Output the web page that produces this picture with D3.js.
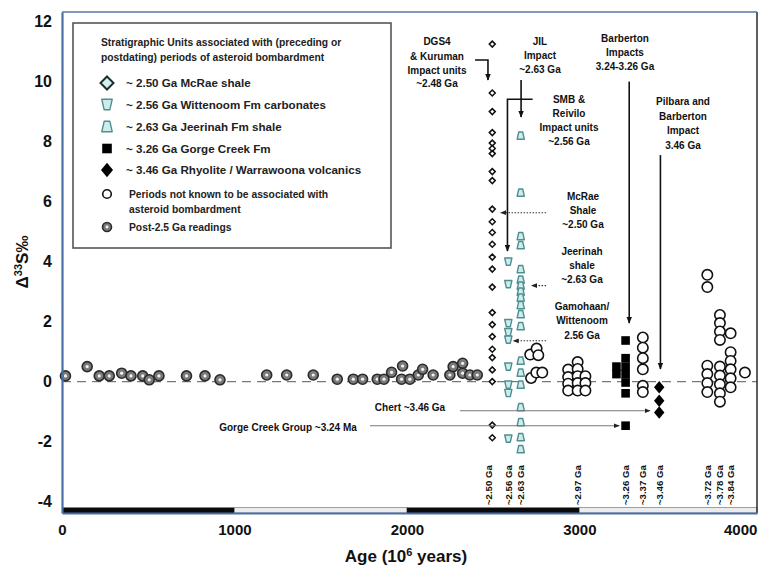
<!DOCTYPE html>
<html>
<head>
<meta charset="utf-8">
<script src="https://cdn.jsdelivr.net/npm/d3@7"></script>
<style>
  html, body { margin: 0; padding: 0; background: #fff; }
  svg { display: block; font-family: "Liberation Sans", Arial, sans-serif; }
  .ann { font-size: 10px; font-weight: bold; fill: #111; }
</style>
</head>
<body>
<svg id="chart" width="760" height="568"></svg>
<script>
// ---- Data: age (Ma) and Δ33S (‰) ----
const xTicks = [0, 1000, 2000, 3000, 4000];
const yTicks = [-4, -2, 0, 2, 4, 6, 8, 10, 12];

// Post-2.5 Ga readings
const postAges = [20, 146, 216, 274, 346, 400, 468, 506, 562, 722, 829, 916,
  1187, 1303, 1457, 1596, 1689, 1743, 1828, 1867, 1911, 1975, 1969, 2017,
  2066, 2091, 2152, 2249, 2268, 2323, 2323, 2365, 2408];
const postVals = [0.19, 0.5, 0.19, 0.19, 0.28, 0.19, 0.19, 0.06, 0.19, 0.19, 0.19, 0.06,
  0.22, 0.22, 0.22, 0.08, 0.08, 0.08, 0.08, 0.08, 0.31, 0.52, 0.08, 0.08,
  0.22, 0.41, 0.22, 0.22, 0.5, 0.61, 0.28, 0.22, 0.22];

// ~2.50 Ga McRae shale
const mcraeAge = 2495;
const mcraeVals = [11.25, 9.62, 9.0, 8.3, 7.95, 7.77, 7.6, 7.0, 6.7, 5.75, 5.33, 4.97,
  4.58, 4.15, 3.75, 3.15, 2.3, 1.9, 1.5, 1.08, 0.8, 0.39, 0.0, -1.45, -1.87];

// ~2.56 Ga Wittenoom Fm carbonates
const wittAge = 2588;
const wittVals = [4.0, 3.25, 1.95, 1.65, 1.4, 0.5, -0.1, -0.38, -1.9];

// ~2.63 Ga Jeerinah Fm shale
const jeerAge = 2660;
const jeerVals = [8.2, 6.3, 4.85, 4.55, 3.75, 3.4, 3.2, 3.0, 2.8, 2.55, 2.25, 1.85,
  0.7, 0.3, -0.1, -0.85, -1.35, -1.85, -2.25];

// ~3.26 Ga Gorge Creek Fm
const gorgeAges = [3268, 3268, 3268, 3268, 3268, 3268, 3268, 3215, 3215];
const gorgeVals = [1.37, 0.78, 0.5, 0.25, -0.03, -0.39, -1.47, 0.5, 0.25];

// ~3.46 Ga Rhyolite / Warrawoona volcanics
const rhyAge = 3463;
const rhyVals = [-0.19, -0.64, -1.03];

// Periods not known to be associated with asteroid bombardment
const openAges = [2715, 2752, 2762, 2720, 2750, 2785,
  2935, 2935, 2935, 2935, 2990, 2990, 2990, 2990, 2990, 3035, 3035, 3035,
  3368, 3368, 3368, 3368, 3368, 3368,
  3742, 3742, 3742, 3742, 3742, 3742,
  3815, 3815, 3815, 3815, 3815, 3815, 3815, 3815, 3815,
  3877, 3877, 3877, 3877, 3877, 3877,
  3960];
const openVals = [0.9, 1.1, 0.88, 0.12, 0.3, 0.3,
  0.4, 0.15, -0.07, -0.3, 0.65, 0.42, 0.18, -0.05, -0.3, 0.18, -0.05, -0.3,
  1.47, 1.13, 0.78, 0.41, -0.14, -0.35,
  3.56, 3.15, 0.53, 0.25, -0.05, -0.35,
  2.22, 1.95, 1.67, 1.39, 0.5, 0.2, -0.09, -0.39, -0.67,
  1.61, 0.98, 0.69, 0.41, 0.11, -0.19,
  0.3];

// Column age labels along the bottom
const colLabels = ["~2.50 Ga", "~2.56 Ga", "~2.63 Ga", "~2.97 Ga", "~3.26 Ga",
  "~3.37 Ga", "~3.46 Ga", "~3.72 Ga", "~3.78 Ga", "~3.84 Ga"];
const colLabelAges = [mcraeAge - 20, wittAge, jeerAge, 2990, 3268, 3368, 3463, 3742, 3815, 3877];

// Alternating time bar along the x axis (Ma)
const barStarts = [0, 1000, 2000, 3000];
const barEnds = [1000, 2000, 3000, 4030];

// Legend
const legendTitle = ["Stratigraphic Units associated with (preceding or",
  "postdating) periods of asteroid bombardment"];
const legendKeys = ["diamondOpen", "trapDown", "trapUp", "square", "diamondFilled", "circle", "post"];
const legendLabels = [
  ["~ 2.50 Ga McRae shale"],
  ["~ 2.56 Ga Wittenoom Fm carbonates"],
  ["~ 2.63 Ga Jeerinah Fm shale"],
  ["~ 3.26 Ga Gorge Creek Fm"],
  ["~ 3.46 Ga Rhyolite / Warrawoona volcanics"],
  ["Periods not known to be associated with", "asteroid bombardment"],
  ["Post-2.5 Ga readings"]];

// ---- Chart ----
const svg = d3.select("#chart");
const W = 760, H = 568;
const plot = { left: 62, right: 757, top: 12, bottom: 513 };

const x = d3.scaleLinear().domain([0, 4030]).range([plot.left, plot.right]);
const y = d3.scaleLinear().domain([-4.38, 12.32]).range([plot.bottom, plot.top]);

svg.append("rect").attr("width", W).attr("height", H).attr("fill", "#fff");

// arrowheads
const defs = svg.append("defs");
defs.append("marker").attr("id", "head").attr("viewBox", "0 0 10 10")
  .attr("refX", 9).attr("refY", 5).attr("markerWidth", 7).attr("markerHeight", 7)
  .attr("markerUnits", "userSpaceOnUse").attr("orient", "auto")
  .append("path").attr("d", "M0,1 L10,5 L0,9 Z").attr("fill", "#111");
defs.append("marker").attr("id", "headSmall").attr("viewBox", "0 0 10 10")
  .attr("refX", 9).attr("refY", 5).attr("markerWidth", 6).attr("markerHeight", 6)
  .attr("markerUnits", "userSpaceOnUse").attr("orient", "auto")
  .append("path").attr("d", "M0,1 L10,5 L0,9 Z").attr("fill", "#222");

// zero reference line
svg.append("line")
  .attr("x1", plot.left).attr("x2", plot.right)
  .attr("y1", y(0)).attr("y2", y(0))
  .attr("stroke", "#777").attr("stroke-width", 1.4).attr("stroke-dasharray", "9,6");

// Legend box
const lg = svg.append("g");
lg.append("rect").attr("x", 73).attr("y", 23).attr("width", 318).attr("height", 225)
  .attr("fill", "#fff").attr("stroke", "#555").attr("stroke-width", 1.6);
lg.selectAll("text.title").data(legendTitle).join("text")
  .attr("x", 101).attr("y", (d, i) => 46 + i * 14.5)
  .attr("font-size", 10.3).attr("font-weight", "bold").attr("fill", "#222")
  .text(d => d);

// symbol drawing helper
function symbol(g, kind, cx, cy, s) {
  if (kind === "diamondOpen") {
    g.append("path").attr("d", `M${cx},${cy - s}L${cx + s},${cy}L${cx},${cy + s}L${cx - s},${cy}Z`)
      .attr("fill", "#fff").attr("stroke", "#111").attr("stroke-width", 1.5);
  } else if (kind === "diamondLegend") {
    g.append("path").attr("d", `M${cx},${cy - s}L${cx + s},${cy}L${cx},${cy + s}L${cx - s},${cy}Z`)
      .attr("fill", "#d4f1f1").attr("stroke", "#1d2e2e").attr("stroke-width", 2);
  } else if (kind === "trapDown" || kind === "trapUp") {
    const t = s, b = s * 0.55, h = s;
    const d = kind === "trapDown"
      ? `M${cx - t},${cy - h}L${cx + t},${cy - h}L${cx + b},${cy + h}L${cx - b},${cy + h}Z`
      : `M${cx - b},${cy - h}L${cx + b},${cy - h}L${cx + t},${cy + h}L${cx - t},${cy + h}Z`;
    g.append("path").attr("d", d).attr("fill", "#cdecec")
      .attr("stroke", "#4f8f90").attr("stroke-width", 1.4).attr("stroke-linejoin", "round");
  } else if (kind === "square") {
    g.append("rect").attr("x", cx - s).attr("y", cy - s).attr("width", 2 * s).attr("height", 2 * s)
      .attr("fill", "#000");
  } else if (kind === "diamondFilled") {
    g.append("path").attr("d", `M${cx},${cy - s * 1.2}L${cx + s},${cy}L${cx},${cy + s * 1.2}L${cx - s},${cy}Z`)
      .attr("fill", "#000");
  } else if (kind === "circle") {
    g.append("circle").attr("cx", cx).attr("cy", cy).attr("r", s)
      .attr("fill", "#fff").attr("stroke", "#111").attr("stroke-width", 1.6);
  } else if (kind === "post") {
    g.append("circle").attr("cx", cx).attr("cy", cy).attr("r", s)
      .attr("fill", "#7a7a7a").attr("stroke", "#2b2b2b").attr("stroke-width", 1.6);
    g.append("circle").attr("cx", cx).attr("cy", cy).attr("r", s * 0.32).attr("fill", "#f2f2f2");
  }
}

const legendRowY = [83, 104.5, 126.5, 148.5, 170, 194, 227];
const legendSize = { diamondOpen: 6.5, trapDown: 5.2, trapUp: 5.2, square: 4.8, diamondFilled: 6, circle: 4.3, post: 4.5 };
legendKeys.forEach((k, i) => {
  const g = lg.append("g");
  symbol(g, k === "diamondOpen" ? "diamondLegend" : k, 107, legendRowY[i], legendSize[k]);
  const small = i >= 5;
  legendLabels[i].forEach((line, j) => {
    lg.append("text")
      .attr("x", small ? 129 : 126).attr("y", legendRowY[i] + j * 15.5)
      .attr("dy", "0.36em")
      .attr("font-size", small ? 10.3 : 11.6).attr("font-weight", "bold").attr("fill", "#222")
      .text(line);
  });
});

// ---- Marks ----
const marks = svg.append("g");

postAges.forEach((a, i) => symbol(marks, "post", x(a), y(postVals[i]), 5));
openAges.forEach((a, i) => symbol(marks, "circle", x(a), y(openVals[i]), 5.2));
mcraeVals.forEach(v => symbol(marks, "diamondOpen", x(mcraeAge), y(v), 3));
wittVals.forEach(v => symbol(marks, "trapDown", x(wittAge), y(v), 3.6));
jeerVals.forEach(v => symbol(marks, "trapUp", x(jeerAge), y(v), 3.6));
gorgeAges.forEach((a, i) => symbol(marks, "square", x(a), y(gorgeVals[i]), 4.3));
rhyVals.forEach(v => symbol(marks, "diamondFilled", x(rhyAge), y(v), 5.2));

// ---- Annotations ----
const ann = svg.append("g");
const textBlocks = [
  { cx: 437, ys: [41.7, 56, 70, 83.3], lines: ["DGS4", "& Kuruman", "Impact units", "~2.48 Ga"] },
  { cx: 540, ys: [41.7, 55, 69], lines: ["JIL", "Impact", "~2.63 Ga"] },
  { cx: 569, ys: [99.3, 113.3, 127.7, 141.7], lines: ["SMB &", "Reivilo", "Impact units", "~2.56 Ga"] },
  { cx: 625, ys: [38.3, 52.7, 66.7], lines: ["Barberton", "Impacts", "3.24-3.26 Ga"] },
  { cx: 683, ys: [101.7, 116, 130, 145], lines: ["Pilbara and", "Barberton", "Impact", "3.46 Ga"] },
  { cx: 583, ys: [196.7, 210.7, 224], lines: ["McRae", "Shale", "~2.50 Ga"] },
  { cx: 582, ys: [251.7, 265.7, 279.3], lines: ["Jeerinah", "shale", "~2.63 Ga"] },
  { cx: 582, ys: [306.7, 320.7, 335], lines: ["Gamohaan/", "Wittenoom", "2.56 Ga"] },
  { cx: 410, ys: [407], lines: ["Chert ~3.46 Ga"] },
  { cx: 288, ys: [427.5], lines: ["Gorge Creek Group ~3.24 Ma"] }
];
textBlocks.forEach(b => {
  b.lines.forEach((t, i) => {
    ann.append("text").attr("class", "ann")
      .attr("x", b.cx).attr("y", b.ys[i]).attr("dy", "0.36em")
      .attr("text-anchor", "middle").text(t);
  });
});

// arrows, in data units (age, Δ33S)
const line = d3.line().x(d => x(d[0])).y(d => y(d[1]));
const solidArrows = [
  [[2395, 10.72], [2470, 10.72], [2470, 10.05]],
  [[2662, 10.05], [2662, 8.82]],
  [[2729, 9.41], [2583, 9.41], [2583, 4.35]],
  [[3289, 10.0], [3289, 1.95]],
  [[3470, 7.55], [3470, 0.42]]
];
solidArrows.forEach(p => {
  ann.append("path").attr("d", line(p)).attr("fill", "none")
    .attr("stroke", "#111").attr("stroke-width", 1.6).attr("marker-end", "url(#head)");
});
const dottedArrows = [
  [[2807, 5.63], [2544, 5.63]],
  [[2807, 3.2], [2723, 3.2]],
  [[2807, 1.36], [2617, 1.36]]
];
dottedArrows.forEach(p => {
  ann.append("path").attr("d", line(p)).attr("fill", "none")
    .attr("stroke", "#333").attr("stroke-width", 1.1).attr("stroke-dasharray", "1.5,1.5")
    .attr("marker-end", "url(#headSmall)");
});
const thinArrows = [
  [[2308, -0.97], [3409, -0.97]],
  [[1786, -1.47], [3231, -1.47]]
];
thinArrows.forEach(p => {
  ann.append("path").attr("d", line(p)).attr("fill", "none")
    .attr("stroke", "#777").attr("stroke-width", 1.1)
    .attr("marker-end", "url(#headSmall)");
});

// column age labels
colLabels.forEach((t, i) => {
  const cx = x(colLabelAges[i]);
  ann.append("text")
    .attr("transform", `translate(${cx},505) rotate(-90)`)
    .attr("dy", "0.36em")
    .attr("font-size", 9.6).attr("font-weight", "bold").attr("fill", "#111")
    .text(t);
});

// ---- Time bar and frame ----
const bar = svg.append("g");
barStarts.forEach((s, i) => {
  bar.append("rect")
    .attr("x", x(s)).attr("y", plot.bottom - 5.5)
    .attr("width", x(barEnds[i]) - x(s)).attr("height", 5.5)
    .attr("fill", i % 2 === 0 ? "#0a0a0a" : "#ececec")
    .attr("stroke", i % 2 === 0 ? "none" : "#8a8a8a").attr("stroke-width", 0.8);
});

svg.append("line").attr("x1", plot.right).attr("x2", plot.right)
  .attr("y1", plot.top).attr("y2", plot.bottom).attr("stroke", "#2a2a2a").attr("stroke-width", 1.5);
svg.append("line").attr("x1", plot.left).attr("x2", plot.right)
  .attr("y1", plot.top).attr("y2", plot.top).attr("stroke", "#5679a8").attr("stroke-width", 1.5);

// axes (plain hyphen for negative tick labels)
const yAxis = d3.axisLeft(y).tickValues(yTicks).tickSize(0).tickPadding(10).tickFormat(d => String(d));
const gy = svg.append("g").attr("transform", `translate(${plot.left},0)`).call(yAxis);
gy.select(".domain").attr("stroke", "#4a6fa5").attr("stroke-width", 2.2);
gy.selectAll("text").attr("font-size", 16).attr("font-weight", "bold").attr("fill", "#111")
  .attr("font-family", "Liberation Sans, Arial, sans-serif");

const xAxis = d3.axisBottom(x).tickValues(xTicks).tickSize(0).tickPadding(11).tickFormat(d => String(d));
const gx = svg.append("g").attr("transform", `translate(0,${plot.bottom})`).call(xAxis);
gx.select(".domain").attr("stroke", "#4a6fa5").attr("stroke-width", 2.2);
gx.selectAll("text").attr("font-size", 15).attr("font-weight", "bold").attr("fill", "#111")
  .attr("font-family", "Liberation Sans, Arial, sans-serif");
gx.selectAll(".tick").filter(d => d === 4000).select("text")
  .attr("text-anchor", "end").attr("dx", "5");

// axis titles
const xt = svg.append("text").attr("x", 406).attr("y", 562).attr("text-anchor", "middle")
  .attr("font-size", 17).attr("font-weight", "bold").attr("fill", "#111");
xt.append("tspan").text("Age (10");
xt.append("tspan").attr("dy", -6).attr("font-size", 11).text("6");
xt.append("tspan").attr("dy", 6).text(" years)");

const yt = svg.append("text").attr("transform", "translate(28,262) rotate(-90)")
  .attr("text-anchor", "middle").attr("font-size", 17).attr("font-weight", "bold").attr("fill", "#111");
yt.append("tspan").text("Δ");
yt.append("tspan").attr("dy", -6).attr("font-size", 11).text("33");
yt.append("tspan").attr("dy", 6).text("S‰");
</script>
</body>
</html>
